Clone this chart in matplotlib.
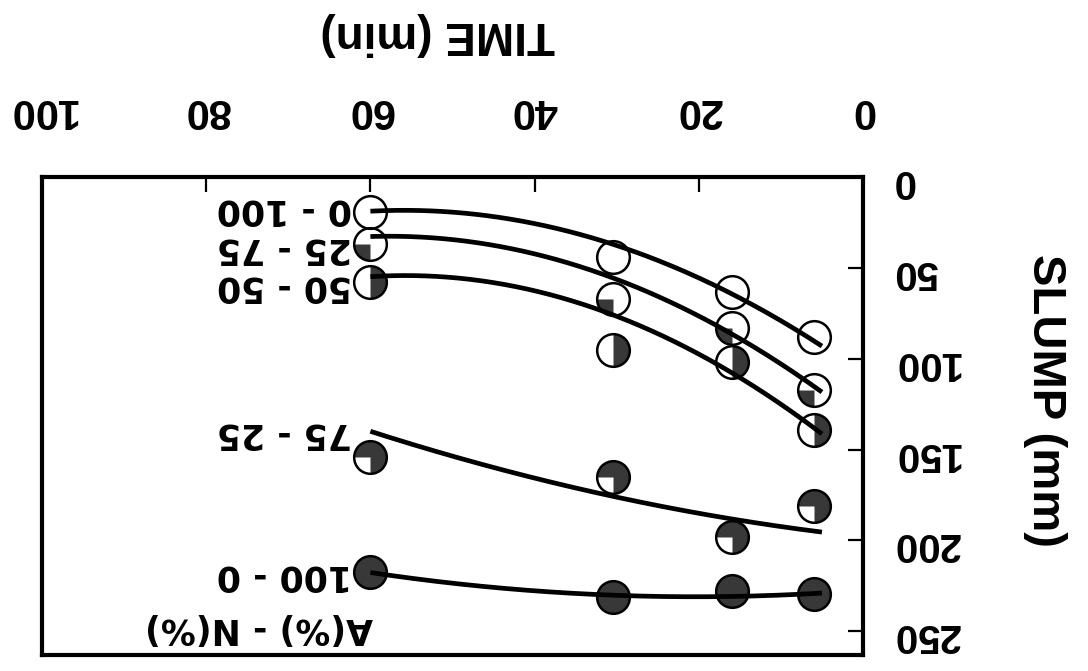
import numpy as np
import matplotlib
matplotlib.use('Agg')
import matplotlib.pyplot as plt
from matplotlib.path import Path
from matplotlib.markers import MarkerStyle

plt.rcParams['font.family'] = ['Liberation Sans', 'DejaVu Sans']
plt.rcParams['font.weight'] = 'bold'

# slump readings (mm) at each elapsed time (min)
time_pts = [60, 30.5, 16, 6]
mixes = ['0 - 100', '25 - 75', '50 - 50', '75 - 25', '100 - 0']
slump_0_100 = [19, 44, 63, 88]
slump_25_75 = [37, 67, 83, 117]
slump_50_50 = [58, 95, 102, 139]
slump_75_25 = [154, 165, 198, 181]
slump_100_0 = [217.5, 231, 228, 229.5]
slumps = [slump_0_100, slump_25_75, slump_50_50, slump_75_25, slump_100_0]

# trend curves, slump (mm) at these times
curve_t = [60, 30, 16, 5]
curve_0_100 = [18.7, 38.5, 63, 93.6]
curve_25_75 = [32.5, 58, 83.7, 119.5]
curve_50_50 = [54.5, 79, 104, 143]
curve_75_25 = [140, 175.6, 189, 195]
curve_100_0 = [217.5, 231, 229.5, 229.5]
curves = [curve_0_100, curve_25_75, curve_50_50, curve_75_25, curve_100_0]

xticks = [0, 20, 40, 60, 80, 100]
yticks = [0, 50, 100, 150, 200, 250]

# filled sector of each symbol (degrees, display coords), None = open / full
sectors = [None, (180, 270), (-90, 90), (-90, 180), 'full']
label_y = [18, 39.5, 60.5, 141, 219]

dark = '#383838'
ms = 23.5

fig = plt.figure(figsize=(10.88, 6.71), dpi=100)
ax = fig.add_axes([42/1088, 1-655/671, (863-42)/1088, (655-177)/671])

tfit = np.linspace(5, 60, 200)
for name, s, cv, sec, ly in zip(mixes, slumps, curves, sectors, label_y):
    t = np.array(time_pts)
    y = np.array(s)
    c = np.polyfit(curve_t, cv, 2)
    ax.plot(tfit, np.polyval(c, tfit), color='black', lw=3.4, zorder=4,
            solid_capstyle='butt')
    if sec == 'full':
        ax.plot(t, y, 'o', ms=ms, mfc=dark, mec='black', mew=1.8, zorder=3)
    else:
        ax.plot(t, y, 'o', ms=ms, mfc='white', mec='none', zorder=2)
        if sec is not None:
            w = MarkerStyle(Path.wedge(sec[0], sec[1]))
            ax.plot(t, y, ls='none', marker=w, ms=ms, mfc=dark, mec='none', zorder=2.5)
        ax.plot(t, y, 'o', ms=ms, mfc='none', mec='black', mew=1.8, zorder=3)
    ax.text(62.2, ly, name, rotation=180, ha='right', va='center',
            fontsize=25, fontweight='bold', family='DejaVu Sans')

ax.text(59.7, 248, 'A(%) - N(%)', rotation=180, ha='right', va='center',
        fontsize=25, fontweight='bold', family='DejaVu Sans')

ax.set_xlim(100, 0)
ax.set_ylim(263, 0)
ax.set_xticks(xticks)
ax.set_yticks(yticks)
ax.xaxis.tick_top()
ax.yaxis.tick_right()
ax.tick_params(direction='in', length=11, width=1.6)
ax.tick_params(axis='x', pad=34, labelsize=30)
ax.tick_params(axis='y', pad=21, labelsize=29)
for lab in ax.get_xticklabels() + ax.get_yticklabels():
    lab.set_rotation(180)
    lab.set_fontweight('bold')
for sp in ax.spines.values():
    sp.set_linewidth(3)

fig.text(438/1088, 1-34/671, 'TIME (min)', rotation=180, ha='center', va='center',
         fontsize=33, fontweight='bold')
fig.text(1045/1088, 1-400/671, 'SLUMP (mm)', rotation=270, ha='center', va='center',
         fontsize=34, fontweight='bold')

fig.savefig('out.png', dpi=100)
